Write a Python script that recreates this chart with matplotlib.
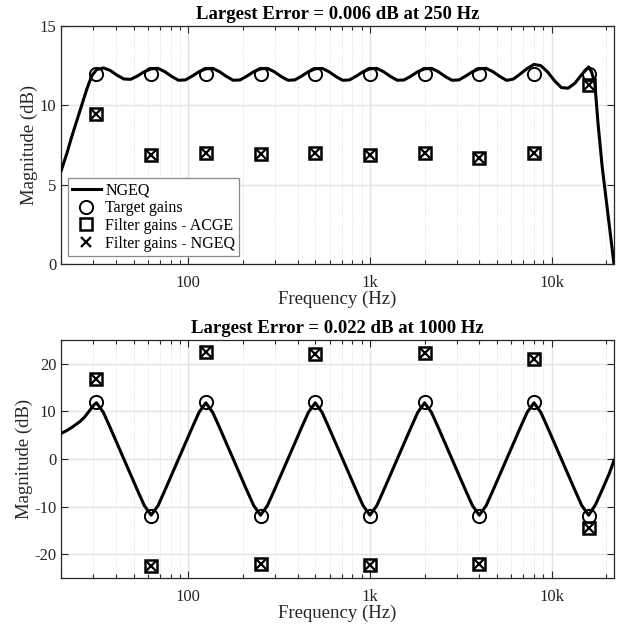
# Import libraries
import matplotlib
matplotlib.use('Agg')
import matplotlib.pyplot as plt
import matplotlib.ticker as mticker
import numpy as np

# Octave band centre frequencies (Hz)
bandFreqs = [31.25, 62.5, 125, 250, 500, 1000, 2000, 4000, 8000, 16000]

# Common 1/8-octave frequency grid for the magnitude responses (Hz)
gridHz = [31.25, 34.08, 37.16, 40.53, 44.19, 48.19, 52.56, 57.31,
          62.5, 68.16, 74.33, 81.05, 88.39, 96.39, 105.1, 114.6,
          125, 136.3, 148.7, 162.1, 176.8, 192.8, 210.2, 229.3,
          250, 272.6, 297.3, 324.2, 353.6, 385.6, 420.4, 458.5,
          500, 545.3, 594.6, 648.4, 707.1, 771.1, 840.9, 917.0,
          1000, 1091, 1189, 1297, 1414, 1542, 1682, 1834,
          2000, 2181, 2378, 2594, 2828, 3084, 3364, 3668,
          4000, 4362, 4757, 5187, 5657, 6169, 6727, 7336,
          8000, 8724, 9514, 10375, 11314, 12338, 13454, 14672,
          16000]

# Case 1: all bands at +12 dB
targetFlat = [12, 12, 12, 12, 12, 12, 12, 12, 12, 12]
acgeFlat = [9.46, 6.84, 6.99, 6.94, 6.97, 6.88, 6.97, 6.71, 6.97, 11.31]
ngeqFlat = [9.46, 6.84, 6.99, 6.94, 6.97, 6.88, 6.97, 6.71, 6.97, 11.31]
respFlatLowHz = [20, 21.5, 22.8, 24.3, 25.9, 27.6, 29.4]
respFlatLowDb = [5.9, 7.0, 8.0, 9.0, 10.0, 11.0, 11.85]
respFlatDb = [12.25, 12.36, 12.2, 11.9, 11.66, 11.64, 11.85, 12.12,
              12.3, 12.33, 12.12, 11.82, 11.58, 11.6, 11.84, 12.12,
              12.3, 12.33, 12.12, 11.82, 11.58, 11.6, 11.84, 12.12,
              12.3, 12.33, 12.12, 11.82, 11.58, 11.6, 11.84, 12.12,
              12.3, 12.33, 12.12, 11.82, 11.58, 11.6, 11.84, 12.12,
              12.3, 12.33, 12.12, 11.82, 11.58, 11.6, 11.84, 12.12,
              12.3, 12.33, 12.12, 11.82, 11.58, 11.6, 11.84, 12.12,
              12.3, 12.33, 12.12, 11.82, 11.57, 11.66, 11.98, 12.32,
              12.58, 12.5, 12.1, 11.55, 11.12, 11.08, 11.4, 11.95,
              12.42]
respFlatHighHz = [16600, 17300, 18000, 19000, 20000, 21000, 22050]
respFlatHighDb = [12.1, 11.4, 8.9, 6.1, 4.0, 2.0, 0.0]

# Case 2: alternating +12 / -12 dB
targetAlt = [12, -12, 12, -12, 12, -12, 12, -12, 12, -12]
acgeAlt = [16.8, -22.4, 22.4, -22.0, 22.1, -22.2, 22.2, -22.0, 21.0, -14.6]
ngeqAlt = [16.8, -22.4, 22.4, -22.0, 22.1, -22.2, 22.2, -22.0, 21.0, -14.6]
respAltLowHz = [20, 21.5, 23.0, 25.4, 27.0, 28.8, 30.3]
respAltLowDb = [5.4, 6.0, 6.7, 7.9, 8.9, 10.3, 11.4]
respAltDb = [11.8, 9.8, 6.6, 3.3, 0.0, -3.3, -6.6, -9.8,
             -11.8, -9.8, -6.6, -3.3, 0.0, 3.3, 6.6, 9.8,
             11.8, 9.8, 6.6, 3.3, 0.0, -3.3, -6.6, -9.8,
             -11.8, -9.8, -6.6, -3.3, 0.0, 3.3, 6.6, 9.8,
             11.8, 9.8, 6.6, 3.3, 0.0, -3.3, -6.6, -9.8,
             -11.8, -9.8, -6.6, -3.3, 0.0, 3.3, 6.6, 9.8,
             11.8, 9.8, 6.6, 3.3, 0.0, -3.3, -6.6, -9.8,
             -11.8, -9.8, -6.6, -3.3, 0.0, 3.3, 6.6, 9.8,
             11.8, 9.8, 6.6, 3.3, 0.0, -3.3, -6.6, -9.8,
             -11.8]
respAltHighHz = [17448, 19027, 20749, 22050]
respAltHighDb = [-9.6, -6.4, -3.1, -0.3]

xTicks = [100, 1000, 10000]
xTickLabels = ['100', '1k', '10k']

# MATLAB-like look
plt.rcParams['font.family'] = 'Liberation Serif'
plt.rcParams['axes.unicode_minus'] = False
darkGrey = '#262626'


def styleAxes(ax, yLim, yTicks):
    """ Log frequency axis with MATLAB style grid and ticks. """
    ax.set_xscale('log')
    ax.set_xlim(20, 22050)
    ax.set_ylim(yLim)
    ax.set_yticks(yTicks)
    ax.xaxis.set_major_locator(mticker.FixedLocator(xTicks))
    ax.xaxis.set_major_formatter(mticker.FixedFormatter(xTickLabels))
    ax.xaxis.set_minor_locator(mticker.LogLocator(base=10, subs=np.arange(2, 10)))
    ax.xaxis.set_minor_formatter(mticker.NullFormatter())
    ax.tick_params(which='both', direction='in', top=True, right=True,
                   colors=darkGrey, labelsize=12, width=0.8)
    ax.tick_params(which='major', length=5)
    ax.tick_params(which='minor', length=3.2)
    ax.tick_params(axis='x', which='major', pad=8)
    ax.grid(which='major', color='#e3e3e3', linewidth=1.0)
    ax.grid(which='minor', axis='x', color='#d4d4d4', linestyle=':', linewidth=0.6)
    ax.set_axisbelow(True)
    for spine in ax.spines.values():
        spine.set_color(darkGrey)
        spine.set_linewidth(0.9)
    ax.set_xlabel('Frequency (Hz)', fontsize=13.5, color=darkGrey, labelpad=0)
    ax.set_ylabel('Magnitude (dB)', fontsize=13.5, color=darkGrey, labelpad=1)


def plotCase(ax, respHz, respDb, target, acge, ngeq, title):
    """ Draw one equaliser response with its gains. """
    line, = ax.plot(respHz, respDb, color='black', linewidth=2.2, zorder=3)
    circ, = ax.plot(bandFreqs, target, linestyle='none', marker='o', markersize=9.5,
                    markerfacecolor='none', markeredgecolor='black',
                    markeredgewidth=1.4, zorder=4)
    sq, = ax.plot(bandFreqs, acge, linestyle='none', marker='s', markersize=9,
                  markerfacecolor='none', markeredgecolor='black',
                  markeredgewidth=1.8, zorder=4)
    cross, = ax.plot(bandFreqs, ngeq, linestyle='none', marker='x', markersize=6.5,
                     markeredgecolor='black', markeredgewidth=1.6, zorder=5)
    ax.set_title(title, fontsize=13.5, fontweight='bold', pad=5)
    return line, circ, sq, cross


fig = plt.figure(figsize=(6.26, 6.31), dpi=100)
axTop = fig.add_axes([0.0979, 0.5816, 0.8829, 0.3772])
axBot = fig.add_axes([0.0979, 0.0840, 0.8829, 0.3772])

# Flat +12 dB case
flatHz = respFlatLowHz + gridHz + respFlatHighHz
flatDb = respFlatLowDb + respFlatDb + respFlatHighDb
handles = plotCase(axTop, flatHz, flatDb, targetFlat, acgeFlat, ngeqFlat,
                   'Largest Error = 0.006 dB at 250 Hz')
styleAxes(axTop, (0, 15), [0, 5, 10, 15])
leg = axTop.legend(handles, ['NGEQ', 'Target gains', 'Filter gains - ACGE',
                             'Filter gains - NGEQ'],
                   loc='lower left', bbox_to_anchor=(0.012, 0.034),
                   borderaxespad=0, fontsize=11.5, fancybox=False,
                   framealpha=1, edgecolor='#888888', handlelength=1.8,
                   handletextpad=0.3, labelspacing=0.12, borderpad=0.25)
leg.get_frame().set_linewidth(0.9)

# Alternating +/-12 dB case
altHz = respAltLowHz + gridHz + respAltHighHz
altDb = respAltLowDb + respAltDb + respAltHighDb
plotCase(axBot, altHz, altDb, targetAlt, acgeAlt, ngeqAlt,
         'Largest Error = 0.022 dB at 1000 Hz')
styleAxes(axBot, (-25, 25), [-20, -10, 0, 10, 20])

plt.savefig('out.png', dpi=100)
